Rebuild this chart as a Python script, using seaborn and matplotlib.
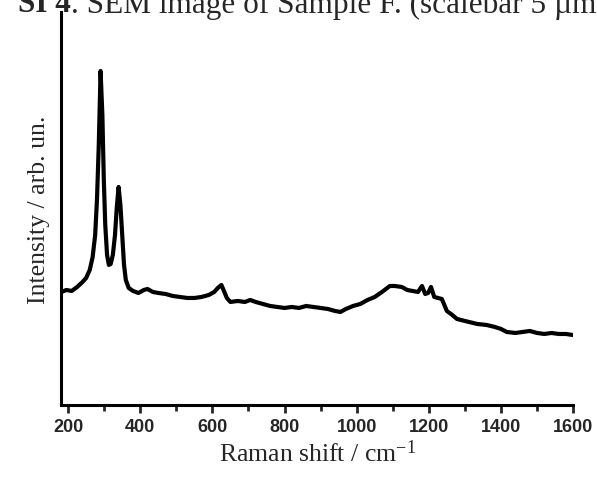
import numpy as np
import pandas as pd
import matplotlib
matplotlib.use('Agg')
import matplotlib.pyplot as plt
import seaborn as sns
from matplotlib.ticker import MultipleLocator

# Raman spectrum (intensity in arbitrary units)
raman_shift = [182, 195, 210, 225, 240, 250, 260, 268, 275, 280, 285, 290, 295, 299, 303,
               308, 313, 318, 324, 330, 335, 340, 345, 350, 355, 360, 368, 380, 395, 410,
               420, 435, 450, 470, 490, 510, 530, 550, 570, 590, 605, 615, 625, 632, 640,
               650, 670, 690, 705, 720, 740, 760, 780, 800, 820, 840, 860, 880, 900, 920,
               940, 955, 970, 990, 1010, 1030, 1050, 1070, 1092, 1105, 1125, 1140, 1155, 1170,
               1181, 1190, 1198, 1206, 1215, 1236, 1250, 1265, 1278, 1300, 1334, 1360, 1383,
               1400, 1416, 1440, 1460, 1480, 1500, 1520, 1540, 1560, 1580, 1598]
intensity = [113, 115, 114, 118, 123, 127, 135, 148, 170, 205, 260, 334, 290, 225, 180,
             150, 140, 141, 150, 170, 198, 218, 200, 170, 140, 125, 117, 114, 112, 115,
             116, 113, 112, 111, 109, 108, 107, 107, 108, 110, 113, 117, 120, 114, 107,
             103, 104, 103, 105, 103, 101, 99, 98, 97, 98, 97, 99, 98, 97, 96,
             94, 93, 96, 99, 101, 105, 108, 113, 119, 119, 118, 115, 114, 113,
             119, 111, 112, 118, 108, 106, 94, 90, 86, 84, 81, 80, 78,
             76, 73, 72, 73, 74, 72, 71, 72, 71, 71, 70]

df = pd.DataFrame({'shift': raman_shift, 'intensity': intensity})

sns.set_style('white')
plt.rcParams['font.family'] = ['Liberation Serif', 'DejaVu Serif']
plt.rcParams['mathtext.fontset'] = 'custom'
plt.rcParams['mathtext.rm'] = 'Liberation Serif'
plt.rcParams['mathtext.default'] = 'regular'

fig = plt.figure(figsize=(5.97, 4.81), dpi=100)
ax = fig.add_axes([0.102, 0.156, 0.858, 0.817])

sns.lineplot(data=df, x='shift', y='intensity', color='black', linewidth=3,
             estimator=None, ax=ax)

ax.set_xlim(180, 1600)
ax.set_ylim(0, 393)
ax.set_yticks([])
ax.xaxis.set_major_locator(MultipleLocator(200))
ax.xaxis.set_minor_locator(MultipleLocator(100))
ax.tick_params(axis='x', which='major', direction='out', length=6, width=2, bottom=True)
ax.tick_params(axis='x', which='minor', direction='out', length=4, width=2, bottom=True)
for lbl in ax.get_xticklabels():
    lbl.set_family('Liberation Sans')
    lbl.set_fontweight('bold')
    lbl.set_fontsize(13)

for side in ['top', 'right']:
    ax.spines[side].set_visible(False)
for side in ['bottom', 'left']:
    ax.spines[side].set_linewidth(2.2)
    ax.spines[side].set_color('black')

ax.set_xlabel('Raman shift / cm$^{-1}$', fontsize=18.5, labelpad=3)
ax.set_ylabel('Intensity / arb. un.', fontsize=18.5, labelpad=8)

# cut-off caption from the source document
t1 = fig.text(18 / 597, 1 - 12.5 / 481, 'SI 4', fontsize=22.5, fontweight='bold',
              va='baseline', ha='left')
fig.canvas.draw()
bb = t1.get_window_extent()
fig.text(bb.x1 / fig.bbox.width, 1 - 12.5 / 481, '. SEM image of Sample F. (scalebar 5 µm)',
         fontsize=22.5, va='baseline', ha='left')

plt.savefig('out.png', dpi=100)
